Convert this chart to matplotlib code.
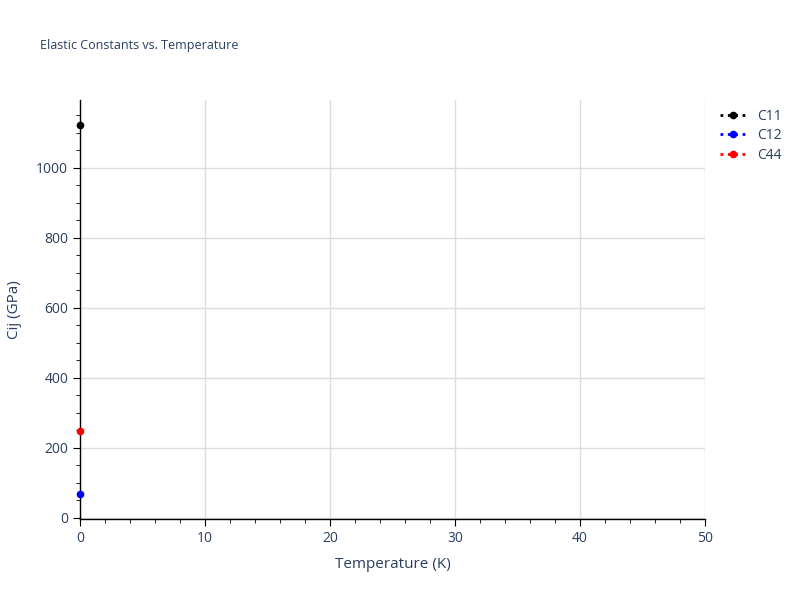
import matplotlib
matplotlib.use('Agg')
import matplotlib.pyplot as plt
from matplotlib.ticker import MultipleLocator

temperature = [0]
c11 = [1123]
c12 = [68]
c44 = [249]

series = [('C11', c11, 'black'), ('C12', c12, 'blue'), ('C44', c44, 'red')]
txt = '#2a3f5f'
plt.rcParams['font.family'] = ['Open Sans', 'DejaVu Sans']

fig = plt.figure(figsize=(8, 6), dpi=100)
ax = fig.add_axes([0.1, 0.135, 0.78125, 0.6983])

for name, vals, col in series:
    ax.plot(temperature, vals, linestyle=':', linewidth=2, marker='o', markersize=4.5,
            color=col, label=name, clip_on=False, zorder=3)

ax.set_xlim(0, 50)
ax.set_ylim(-3, 1194)
ax.xaxis.set_major_locator(MultipleLocator(10))
ax.xaxis.set_minor_locator(MultipleLocator(2))
ax.yaxis.set_major_locator(MultipleLocator(200))
ax.yaxis.set_minor_locator(MultipleLocator(50))
ax.grid(True, which='major', color='#dddddd', linewidth=1)
ax.set_axisbelow(True)
ax.get_xgridlines()[-1].set_visible(False)

for s in ['top', 'right']:
    ax.spines[s].set_visible(False)
for s in ['left', 'bottom']:
    ax.spines[s].set_color('black')
    ax.spines[s].set_linewidth(1)

ax.tick_params(which='major', direction='out', length=5, color='black', labelsize=10, labelcolor=txt)
ax.tick_params(which='minor', direction='out', length=3, color='black')

ax.set_xlabel('Temperature (K)', fontsize=11, color=txt, labelpad=8)
ax.set_ylabel('Cij (GPa)', fontsize=11, color=txt, labelpad=10)
fig.text(0.05, 0.925, 'Elastic Constants vs. Temperature', fontsize=9, color=txt, va='center')

leg = ax.legend(loc='upper left', bbox_to_anchor=(1.01, 0.998), frameon=False, fontsize=10,
                handlelength=2.0, handletextpad=0.7, labelspacing=0.3, borderaxespad=0.2)
for t in leg.get_texts():
    t.set_color(txt)

fig.savefig('out.png', dpi=100)
